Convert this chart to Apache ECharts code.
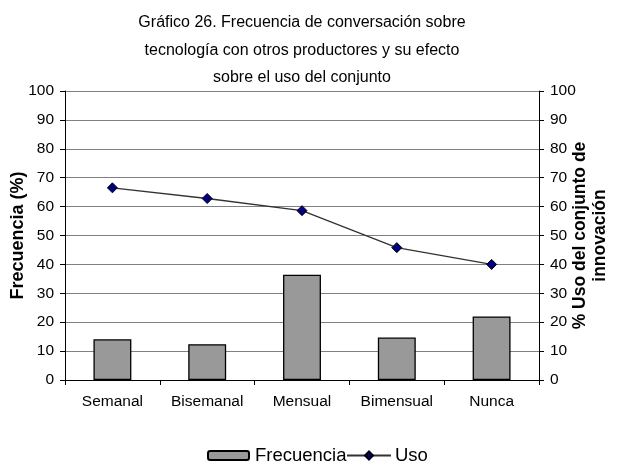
<!DOCTYPE html>
<html>
<head>
<meta charset="utf-8">
<script src="https://cdn.jsdelivr.net/npm/echarts@6/dist/echarts.min.js"></script>
<style>
html,body{margin:0;padding:0;background:#fff;}
#chart{width:619px;height:464px;}
</style>
</head>
<body>
<div id="chart"></div>
<script>
var categories = ['Semanal', 'Bisemanal', 'Mensual', 'Bimensual', 'Nunca'];
var frecuencia = [14.1, 12.4, 36.4, 14.7, 22.0];
var uso = [66.5, 62.8, 58.6, 45.8, 40.0];
var titleLines = ['Gráfico 26. Frecuencia de conversación sobre', 'tecnología con otros productores y su efecto', 'sobre el uso del conjunto'];
var leftAxisName = 'Frecuencia (%)';
var rightAxisName = '% Uso del conjunto de\ninnovación';

var FONT = 'Liberation Sans, Arial, sans-serif';
var chart = echarts.init(document.getElementById('chart'), null, {renderer: 'canvas'});
chart.setOption({
  animation: false,
  backgroundColor: '#ffffff',
  textStyle: {fontFamily: FONT, color: '#000'},
  graphic: [{
    type: 'text',
    x: 302, y: 9,
    style: {
      text: titleLines.join('\n'),
      fontFamily: FONT, fontSize: 16, lineHeight: 27.5,
      fill: '#000', align: 'center', verticalAlign: 'top'
    }
  }],
  grid: {left: 65, right: 80, top: 91, bottom: 84, containLabel: false, outerBoundsMode: 'none'},
  legend: [{
    data: ['Frecuencia'],
    left: 207, top: 446, padding: 0,
    itemWidth: 41, itemHeight: 9, itemGap: 0,
    textStyle: {fontFamily: FONT, fontSize: 18.5, color: '#000', padding: [0, 0, 0, 1]}
  }, {
    data: ['Uso'],
    left: 346, top: 446, padding: 0,
    itemWidth: 44, itemHeight: 10,
    textStyle: {fontFamily: FONT, fontSize: 18.5, color: '#000', padding: [0, 0, 0, -1]}
  }],
  xAxis: {
    type: 'category',
    data: categories,
    boundaryGap: true,
    axisLine: {lineStyle: {color: '#000', width: 1}},
    axisTick: {show: true, length: 5, alignWithLabel: false, interval: 0, lineStyle: {color: '#000'}},
    axisLabel: {fontFamily: FONT, fontSize: 15.5, color: '#000', margin: 14, interval: 0, hideOverlap: false}
  },
  yAxis: [{
    type: 'value',
    min: 0, max: 100, interval: 10,
    name: leftAxisName,
    nameLocation: 'middle',
    nameGap: 38,
    nameRotate: 90,
    nameMoveOverlap: false,
    nameTextStyle: {fontFamily: FONT, fontSize: 18, fontWeight: 'bold', color: '#000'},
    axisLine: {show: true, lineStyle: {color: '#000', width: 1}},
    axisTick: {show: true, length: 5, lineStyle: {color: '#000'}},
    axisLabel: {fontFamily: FONT, fontSize: 15.5, color: '#000', margin: 11},
    splitLine: {show: true, lineStyle: {color: '#808080', width: 1}}
  }, {
    type: 'value',
    min: 0, max: 100, interval: 10,
    position: 'right',
    name: rightAxisName,
    nameLocation: 'middle',
    nameGap: 31,
    nameRotate: 90,
    nameMoveOverlap: false,
    nameTextStyle: {fontFamily: FONT, fontSize: 17.5, fontWeight: 'bold', color: '#000', lineHeight: 20, align: 'center'},
    axisLine: {show: true, lineStyle: {color: '#000', width: 1}},
    axisTick: {show: true, length: 5, lineStyle: {color: '#000'}},
    axisLabel: {fontFamily: FONT, fontSize: 15.5, color: '#000', margin: 11},
    splitLine: {show: false}
  }],
  series: [{
    name: 'Frecuencia',
    type: 'bar',
    data: frecuencia,
    barWidth: '40%',
    itemStyle: {color: '#999999', borderColor: '#000', borderWidth: 1.3}
  }, {
    name: 'Uso',
    type: 'line',
    yAxisIndex: 1,
    data: uso,
    symbol: 'diamond',
    symbolSize: 10,
    lineStyle: {color: '#333333', width: 1.3},
    itemStyle: {color: '#000080', borderColor: '#000', borderWidth: 1}
  }]
});
</script>
</body>
</html>
